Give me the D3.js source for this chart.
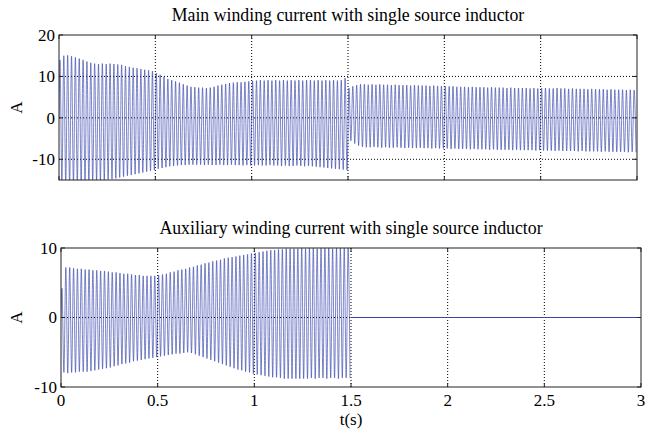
<!DOCTYPE html>
<html>
<head>
<meta charset="utf-8">
<script src="https://cdn.jsdelivr.net/npm/d3@7"></script>
<style>
  body { margin: 0; background: #fff; }
  .chart { width: 646px; height: 430px; }
</style>
</head>
<body>
<div class="chart"></div>
<script>
// one peak pair per 50 Hz cycle
const period = 0.02;

const mainHi = [
  14.0, 15.0, 15.1, 14.9, 14.6, 14.3, 14.0, 13.6, 13.3, 13.1,
  13.0, 13.1, 13.0, 13.1, 13.0, 12.9, 12.8, 12.5, 12.3, 12.1,
  12.0, 11.8, 11.6, 11.5, 11.3, 10.8, 10.4, 9.9, 9.4, 9.1,
  8.8, 8.5, 8.1, 7.8, 7.5, 7.4, 7.3, 7.3, 7.2, 7.3,
  7.5, 7.8, 8.0, 8.2, 8.4, 8.5, 8.6, 8.6, 8.7, 8.8,
  8.9, 9.0, 9.1, 9.0, 9.1, 9.0, 9.1, 9.0, 9.1, 9.0,
  9.1, 9.0, 9.1, 9.0, 9.1, 9.1, 9.0, 9.1, 9.0, 9.1,
  9.0, 9.1, 9.0, 9.1, 9.6,
  7.2, 7.6, 7.9, 8.1, 8.1,
  8.0, 8.1, 8.0, 8.1, 8.0, 8.0, 7.9, 8.0, 7.9, 7.9,
  7.9, 7.8, 7.9, 7.8, 7.8, 7.8, 7.7, 7.8, 7.7, 7.7,
  7.6, 7.6, 7.6, 7.5, 7.5, 7.5, 7.4, 7.5, 7.4, 7.4,
  7.4, 7.3, 7.4, 7.3, 7.3, 7.3, 7.2, 7.3, 7.2, 7.2,
  7.2, 7.2, 7.1, 7.2, 7.1,
  7.2, 7.2, 7.1, 7.1, 7.2, 7.1, 7.1, 7.0, 7.1, 7.0,
  7.0, 7.0, 6.9, 7.0, 6.9, 6.9, 6.9, 6.8, 6.9, 6.8,
  6.8, 6.8, 6.7, 6.8, 6.7
];

const mainLo = [
  -15.5, -16.0, -16.2, -16.1, -15.9, -15.8, -15.6, -15.5, -15.3, -15.2,
  -15.1, -15.0, -14.9, -14.8, -14.6, -14.4, -14.2, -14.0, -13.8, -13.6,
  -13.4, -13.2, -13.0, -12.8, -12.6, -12.3, -12.1, -11.9, -11.7, -11.6,
  -11.5, -11.4, -11.4, -11.3, -11.3, -11.3, -11.3, -11.4, -11.3, -11.4,
  -11.4, -11.3, -11.4, -11.4, -11.3, -11.4, -11.4, -11.5, -11.4, -11.5,
  -11.5, -11.4, -11.5, -11.5, -11.4, -11.5, -11.5, -11.6, -11.5, -11.6,
  -11.6, -11.5, -11.6, -11.7, -11.6, -11.7, -11.8, -11.9, -12.0, -12.1,
  -12.2, -12.3, -12.4, -12.5, -12.6,
  -5.5, -6.2, -6.7, -7.0, -7.1,
  -7.1, -7.0, -7.1, -7.2, -7.1, -7.2, -7.2, -7.1, -7.2, -7.3,
  -7.2, -7.3, -7.3, -7.2, -7.3, -7.3, -7.4, -7.3, -7.4, -7.4,
  -7.4, -7.5, -7.4, -7.5, -7.5, -7.5, -7.6, -7.5, -7.6, -7.6,
  -7.6, -7.7, -7.6, -7.7, -7.7, -7.7, -7.7, -7.8, -7.7, -7.8,
  -7.8, -7.8, -7.8, -7.9, -7.8,
  -7.9, -7.9, -7.9, -8.0, -7.9, -8.0, -8.0, -8.0, -8.0, -8.1,
  -8.0, -8.1, -8.1, -8.1, -8.1, -8.2, -8.1, -8.2, -8.2, -8.2,
  -8.2, -8.2, -8.3, -8.2, -8.3
];

const auxHi = [
  4.2, 7.2, 7.2, 7.1, 7.0, 7.0, 6.9, 6.9, 6.8, 6.8,
  6.7, 6.7, 6.6, 6.5, 6.5, 6.4, 6.3, 6.3, 6.2, 6.1,
  6.1, 6.0, 6.0, 6.0, 6.0, 6.1, 6.2, 6.3, 6.5, 6.6,
  6.8, 6.9, 7.0, 7.2, 7.3, 7.5, 7.6, 7.8, 7.9, 8.1,
  8.2, 8.3, 8.5, 8.6, 8.7, 8.8, 8.9, 9.0, 9.1, 9.2,
  9.3, 9.4, 9.5, 9.6, 9.7, 9.7, 9.8, 9.8, 9.9, 9.9,
  9.9, 9.9, 10.0, 9.9, 10.0, 10.0, 9.9, 10.0, 10.0, 10.0,
  9.9, 10.0, 10.0, 10.0, 10.0
];

const auxLo = [
  -7.9, -8.0, -7.9, -7.9, -7.8, -7.8, -7.8, -7.7, -7.6, -7.5,
  -7.4, -7.3, -7.2, -7.0, -6.9, -6.7, -6.6, -6.5, -6.3, -6.2,
  -6.1, -6.0, -5.9, -5.8, -5.7, -5.6, -5.5, -5.4, -5.3, -5.2,
  -5.2, -5.1, -5.0, -5.1, -5.3, -5.5, -5.7, -5.9, -6.1, -6.3,
  -6.5, -6.7, -6.9, -7.1, -7.3, -7.5, -7.6, -7.8, -7.9, -8.1,
  -8.2, -8.3, -8.4, -8.5, -8.6, -8.6, -8.7, -8.8, -8.8, -8.8,
  -8.8, -8.8, -8.8, -8.8, -8.7, -8.8, -8.7, -8.7, -8.8, -8.7,
  -8.7, -8.8, -8.7, -8.7, -8.7
];

// auxiliary winding switched out at 1.5 s
const auxTail = [[1.5, 0], [3, 0]];

const xTicks = [0, 0.5, 1, 1.5, 2, 2.5, 3];
const mainTicks = [-10, 0, 10, 20];
const auxTicks = [-10, 0, 10];

const panels = [
  { title: "Main winding current with single source inductor", hi: mainHi, lo: mainLo, tail: null,
    yDomain: [-15, 20], yTicks: mainTicks, box: { left: 59, right: 637, top: 35, bottom: 180 },
    titleY: 21, showX: false },
  { title: "Auxiliary winding current with single source inductor", hi: auxHi, lo: auxLo, tail: auxTail,
    yDomain: [-10, 10], yTicks: auxTicks, box: { left: 61, right: 641, top: 248, bottom: 387 },
    titleY: 234, showX: true }
];

const lineColor = "#3543ab";
const font = "'Liberation Serif', 'Times New Roman', Times, serif";

let svg = d3.select(".chart").append("svg")
  .attr("width", 646)
  .attr("height", 430);

panels.forEach((p, idx) => {
  let b = p.box;
  let x = d3.scaleLinear().domain([0, 3]).range([b.left, b.right]);
  let y = d3.scaleLinear().domain(p.yDomain).range([b.bottom, b.top]);

  let g = svg.append("g");

  g.append("clipPath").attr("id", "clip" + idx)
    .append("rect")
    .attr("x", b.left).attr("y", b.top)
    .attr("width", b.right - b.left).attr("height", b.bottom - b.top);

  // dotted grid
  g.selectAll("line.gx").data(xTicks.slice(1, -1)).enter()
    .append("line")
    .attr("x1", d => x(d)).attr("x2", d => x(d))
    .attr("y1", b.top).attr("y2", b.bottom)
    .attr("stroke", "#000").attr("stroke-width", 1)
    .attr("stroke-dasharray", "1,2");

  g.selectAll("line.gy").data(p.yTicks.filter(d => y(d) > b.top + 1 && y(d) < b.bottom - 1)).enter()
    .append("line")
    .attr("x1", b.left).attr("x2", b.right)
    .attr("y1", d => y(d)).attr("y2", d => y(d))
    .attr("stroke", "#000").attr("stroke-width", 1)
    .attr("stroke-dasharray", "1,2");

  // waveform: one max and one min per cycle
  let pts = [[0, 0]];
  p.hi.forEach((v, i) => {
    pts.push([i * period + period / 4, v]);
    pts.push([i * period + 3 * period / 4, p.lo[i]]);
  });

  let line = d3.line()
    .x(d => x(d[0]))
    .y(d => y(d[1]))
    .curve(d3.curveMonotoneX);

  let wave = g.append("g").attr("clip-path", `url(#clip${idx})`);
  wave.append("path")
    .attr("d", line(pts))
    .attr("fill", "none")
    .attr("stroke", lineColor)
    .attr("stroke-width", 0.65);

  if (p.tail) {
    wave.append("path")
      .attr("d", d3.line().x(d => x(d[0])).y(d => y(d[1]))(p.tail))
      .attr("fill", "none")
      .attr("stroke", lineColor)
      .attr("stroke-width", 1);
  }

  // frame
  g.append("rect")
    .attr("x", b.left).attr("y", b.top)
    .attr("width", b.right - b.left).attr("height", b.bottom - b.top)
    .attr("fill", "none").attr("stroke", "#222").attr("stroke-width", 1);

  // inward ticks
  xTicks.forEach(d => {
    g.append("line").attr("x1", x(d)).attr("x2", x(d)).attr("y1", b.bottom).attr("y2", b.bottom - 4).attr("stroke", "#222");
    g.append("line").attr("x1", x(d)).attr("x2", x(d)).attr("y1", b.top).attr("y2", b.top + 4).attr("stroke", "#222");
  });
  p.yTicks.forEach(d => {
    g.append("line").attr("x1", b.left).attr("x2", b.left + 4).attr("y1", y(d)).attr("y2", y(d)).attr("stroke", "#222");
    g.append("line").attr("x1", b.right).attr("x2", b.right - 4).attr("y1", y(d)).attr("y2", y(d)).attr("stroke", "#222");
  });

  // y tick labels
  g.selectAll("text.yl").data(p.yTicks).enter()
    .append("text")
    .attr("x", b.left - 4)
    .attr("y", d => y(d))
    .attr("dy", "0.35em")
    .attr("text-anchor", "end")
    .attr("font-family", font)
    .attr("font-size", "17px")
    .text(d => d);

  if (p.showX) {
    g.selectAll("text.xl").data(xTicks).enter()
      .append("text")
      .attr("x", d => x(d))
      .attr("y", b.bottom + 19)
      .attr("text-anchor", "middle")
      .attr("font-family", font)
      .attr("font-size", "17px")
      .text(d => d);

    g.append("text")
      .attr("x", (b.left + b.right) / 2)
      .attr("y", 425)
      .attr("text-anchor", "middle")
      .attr("font-family", font)
      .attr("font-size", "17px")
      .text("t(s)");
  }

  g.append("text")
    .attr("transform", `translate(22,${(b.top + b.bottom) / 2}) rotate(-90)`)
    .attr("text-anchor", "middle")
    .attr("font-family", font)
    .attr("font-size", "17px")
    .text("A");

  g.append("text")
    .attr("x", (b.left + b.right) / 2)
    .attr("y", p.titleY)
    .attr("text-anchor", "middle")
    .attr("font-family", font)
    .attr("font-size", "17.8px")
    .text(p.title);
});
</script>
</body>
</html>
